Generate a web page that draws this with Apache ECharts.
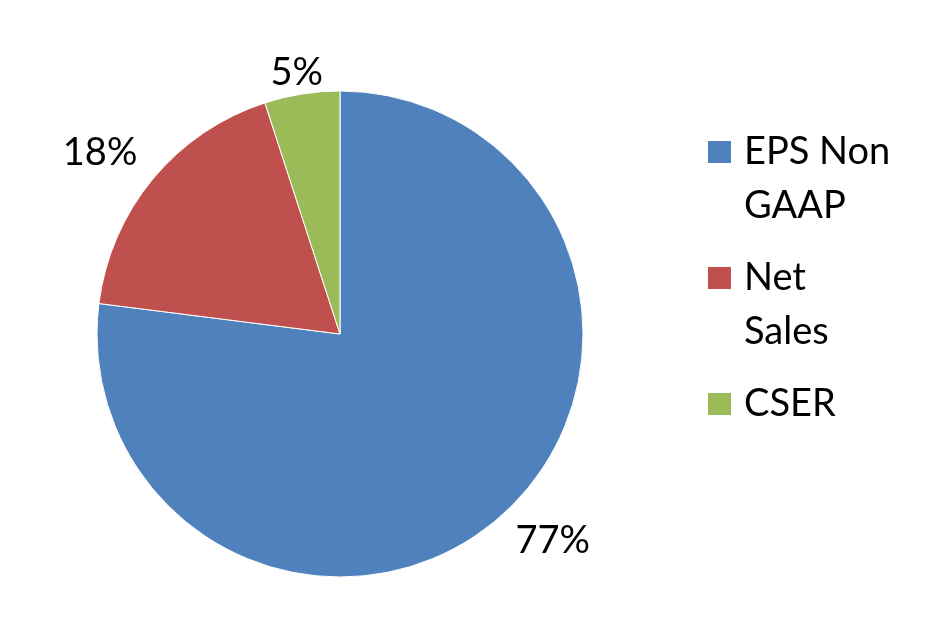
<!DOCTYPE html>
<html>
<head>
<meta charset="utf-8">
<script src="https://cdn.jsdelivr.net/npm/echarts@6/dist/echarts.min.js"></script>
<style>
html,body{margin:0;padding:0;background:#fff;}
#chart{width:935px;height:644px;}
</style>
</head>
<body>
<div id="chart"></div>
<script>
const categories = ['EPS Non GAAP', 'Net Sales', 'CSER'];
const legendLabels = ['EPS Non\nGAAP', 'Net\nSales', 'CSER'];
const values = [77, 18, 5];
const colors = ['#4F81BD', '#C0504D', '#9BBB59'];

const FONT = 'Lato';
const FONT_SIZE = 38;
const chart = echarts.init(document.getElementById('chart'), null, {renderer: 'canvas'});

const labelNudges = [{dx: -7, dy: 0}, {dx: 10, dy: -5}, {dx: 0, dy: 11, align: 'center'}];

// Legend text: first line aligned with the marker (3-line block, middle line = first label line)
function legendText(name) {
  const lines = legendLabels[categories.indexOf(name)].split('\n');
  while (lines.length < 2) lines.push(' ');
  return '\n' + lines.join('\n');
}

chart.setOption({
  backgroundColor: '#fff',
  animation: false,
  color: colors,
  legend: {
    orient: 'vertical',
    left: 706,
    top: 71,
    padding: 0,
    itemWidth: 25,
    itemHeight: 24,
    itemGap: -36,
    icon: 'rect',
    selectedMode: false,
    formatter: legendText,
    textStyle: {fontFamily: FONT, fontSize: FONT_SIZE, color: '#000', lineHeight: 54, padding: [0, 0, 0, 7]},
    data: categories
  },
  series: [{
    type: 'pie',
    center: [340, 334],
    radius: 243,
    startAngle: 90,
    clockwise: true,
    avoidLabelOverlap: false,
    itemStyle: {borderColor: '#fff', borderWidth: 1},
    label: {
      show: true,
      position: 'outside',
      formatter: '{c}%',
      fontFamily: FONT,
      fontSize: FONT_SIZE,
      color: '#000',
      distanceToLabelLine: 0
    },
    labelLine: {show: false, length: 33, length2: 0},
    labelLayout: function (p) { return labelNudges[p.dataIndex]; },
    emphasis: {disabled: true},
    data: categories.map(function (c, i) { return {name: c, value: values[i]}; })
  }]
});
</script>
</body>
</html>
